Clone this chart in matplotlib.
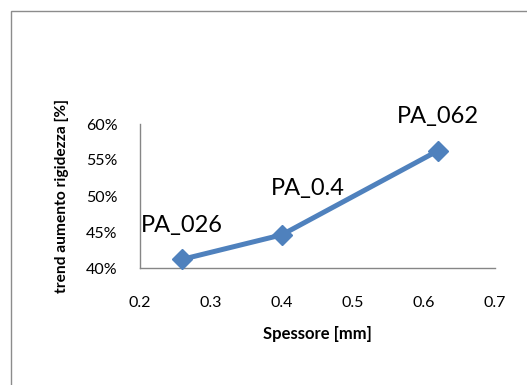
import matplotlib
matplotlib.use("Agg")
import matplotlib.pyplot as plt
from matplotlib.patches import Rectangle
from matplotlib.ticker import FuncFormatter

spessore = [0.26, 0.40, 0.62]
rigidezza = [0.412, 0.446, 0.563]
etichette = ["PA_026", "PA_0.4", "PA_062"]
x_ticks = [0.2, 0.3, 0.4, 0.5, 0.6, 0.7]
y_ticks = [0.40, 0.45, 0.50, 0.55, 0.60]

plt.rcParams['font.family'] = ['Lato', 'DejaVu Sans']

W, H = 527, 385
fig = plt.figure(figsize=(W / 100, H / 100), dpi=100)
fig.patch.set_facecolor("white")

# chart-area frame
fig.patches.append(Rectangle((11 / W, -0.1), 1.2, 1 - 11 / H + 0.1,
                             transform=fig.transFigure, fill=False,
                             edgecolor="#8c8c8c", linewidth=1.0))

ax = fig.add_axes([139.5 / W, 1 - 268 / H, (495 - 139.5) / W, (268 - 124) / H])
ax.plot(spessore, rigidezza, color="#4F81BD", linewidth=3.6, marker="D",
        markersize=10, clip_on=False, zorder=3)

# label offsets (points); the middle label sits up and to the right of its marker
offsets = [(0, 17), (19, 26), (0, 17)]
for (x, y, t), off in zip(zip(spessore, rigidezza, etichette), offsets):
    ax.annotate(t, (x, y), xytext=off, textcoords="offset points",
                ha="center", va="bottom", fontsize=17, color="black")

ax.set_xlim(0.2, 0.7)
ax.set_ylim(0.40, 0.60)
ax.set_xticks(x_ticks)
ax.set_yticks(y_ticks)
ax.xaxis.set_major_formatter(FuncFormatter(lambda v, p: f"{v:.1f}"))
ax.yaxis.set_major_formatter(FuncFormatter(lambda v, p: f"{v * 100:.0f}%"))
ax.tick_params(length=0, labelsize=11.5, colors="black")
ax.tick_params(axis="x", pad=20)
ax.tick_params(axis="y", pad=16)

for s in ["top", "right"]:
    ax.spines[s].set_visible(False)
for s in ["left", "bottom"]:
    ax.spines[s].set_color("#868686")
    ax.spines[s].set_linewidth(1.0)

ax.set_xlabel("Spessore [mm]", fontsize=12, fontweight="bold", labelpad=12)
ax.set_ylabel("trend aumento rigidezza [%]", fontsize=11.2, fontweight="bold", labelpad=12)

fig.savefig("out.png", dpi=100)
